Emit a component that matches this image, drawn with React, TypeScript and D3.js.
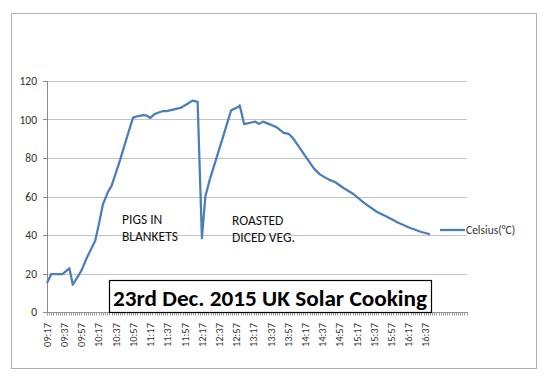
import React from "react";
import * as d3 from "d3";

const times = ["09:17","09:22","09:35","09:43","09:47","09:57","10:03","10:13","10:17","10:22","10:28","10:32","10:42","10:50","10:57","11:03","11:09","11:13","11:17","11:22","11:26","11:31","11:36","11:52","11:59","12:06","12:12","12:17","12:21","12:26","12:32","12:41","12:47","12:51","12:59","13:01","13:06","13:13","13:19","13:23","13:28","13:38","13:44","13:52","13:58","14:03","14:11","14:19","14:27","14:34","14:44","14:52","15:02","15:13","15:25","15:40","15:52","16:04","16:17","16:31","16:42"];
const celsius = [15,19.7,19.7,22.7,14.2,21.5,27.9,37,45,56,62.5,65.5,79,91,101,101.8,102.3,102,100.8,102.8,103.5,104.3,104.4,106,107.8,109.8,109.2,38.3,60,68.6,77.2,90.2,99,104.8,106.5,107.3,97.6,98.3,98.9,97.7,98.9,97.1,95.9,93.1,92.5,90.2,85,79.8,74.6,71.5,68.9,67.4,64.3,61.3,56.8,52.1,49.5,46.6,44,41.7,40.4];
const xTickLabels = ["09:17","09:37","09:57","10:17","10:37","10:57","11:17","11:37","11:57","12:17","12:37","12:57","13:17","13:37","13:57","14:17","14:37","14:57","15:17","15:37","15:57","16:17","16:37"];
const yTicks = [0,20,40,60,80,100,120];
const seriesName = "Celsius(°C)";
const title = "23rd Dec. 2015 UK Solar Cooking";
const note1 = ["PIGS IN","BLANKETS"];
const note2 = ["ROASTED","DICED VEG."];

const toMin = (s: string) => { const [h, m] = s.split(":").map(Number); return h * 60 + m; };
const t0 = toMin("09:17");

export default function App() {
  const left = 47, right = 467, top = 81, bottom = 312;
  const x = d3.scaleLinear().domain([0, 488]).range([left, right]);
  const y = d3.scaleLinear().domain([0, 120]).range([bottom, top]);
  const data = times.map((t, i) => ({ t: toMin(t) - t0, v: celsius[i] }));
  const line = d3.line<{ t: number; v: number }>().x(d => x(d.t)).y(d => y(d.v));
  const minor = d3.range(0, 488.01, 2.5);
  const font = "Carlito, 'Liberation Sans', Arial, sans-serif";
  const blue = "#4A7EBB";
  return (
    <svg width={548} height={383} style={{ position: "absolute", left: 0, top: 0, background: "#fff" }}>
      <rect x={11.5} y={13.5} width={525} height={355} fill="#fff" stroke="#b0b0b0" />
      {yTicks.map(v => (
        <g key={v}>
          {v > 0 && <line x1={left} x2={right} y1={Math.round(y(v)) + 0.5} y2={Math.round(y(v)) + 0.5} stroke="#c4c4c4" />}
          <line x1={left - 4} x2={left} y1={Math.round(y(v)) + 0.5} y2={Math.round(y(v)) + 0.5} stroke="#8c8c8c" />
          <text x={37} y={y(v) + 4} textAnchor="end" fontSize={11.5} fontFamily={font} fill="#333">{v}</text>
        </g>
      ))}
      <line x1={left + 0.5} x2={left + 0.5} y1={top} y2={bottom} stroke="#8c8c8c" />
      <line x1={left} x2={right} y1={bottom + 0.5} y2={bottom + 0.5} stroke="#8c8c8c" />
      {minor.map((m, i) => (
        <line key={i} x1={Math.round(x(m)) + 0.5} x2={Math.round(x(m)) + 0.5} y1={bottom} y2={bottom + 3.5} stroke="#9a9a9a" />
      ))}
      {xTickLabels.map(l => {
        const px = x(toMin(l) - t0);
        return (
          <text key={l} transform={`translate(${px + 3.8},${323}) rotate(-90)`} textAnchor="end" fontSize={10.5} fontFamily={font} fill="#333">{l}</text>
        );
      })}
      <path d={line(data) || ""} fill="none" stroke={blue} strokeWidth={2.25} strokeLinejoin="round" />
      {note1.map((s, i) => (
        <text key={s} x={122} y={224 + i * 17} fontSize={13.5} fontFamily={font} fill="#111">{s}</text>
      ))}
      {note2.map((s, i) => (
        <text key={s} x={232} y={225 + i * 17} fontSize={13.5} fontFamily={font} fill="#111">{s}</text>
      ))}
      <rect x={109.5} y={280.5} width={322} height={32} fill="#fff" stroke="#000" strokeWidth={1.2} />
      <text x={113} y={306} fontSize={22} fontWeight="bold" fontFamily={font} fill="#000" textLength={314} lengthAdjust="spacingAndGlyphs">{title}</text>
      <line x1={440} x2={465} y1={230} y2={230} stroke={blue} strokeWidth={2.25} />
      <text x={466} y={234} fontSize={11.5} fontFamily={font} fill="#333">{seriesName}</text>
    </svg>
  );
}
